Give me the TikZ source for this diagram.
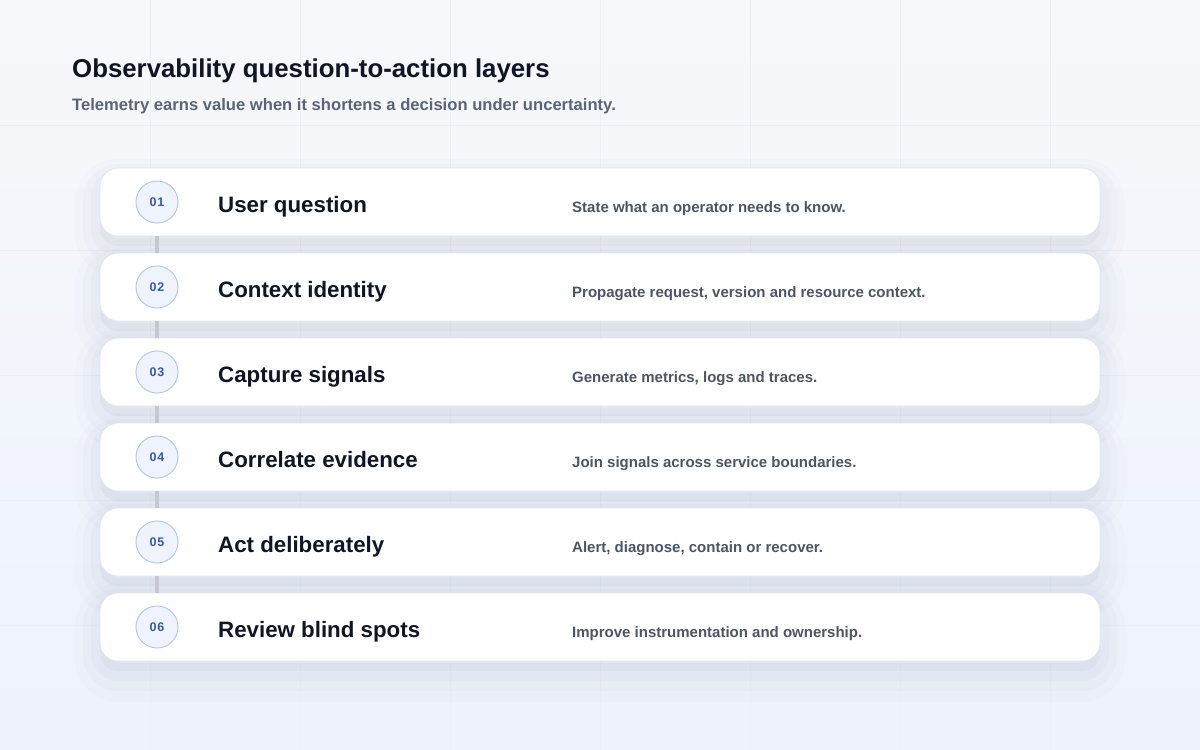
\documentclass[tikz,border=0pt]{standalone}
\usepackage{fontspec}
\setmainfont{Liberation Sans}
\definecolor{bgtop}{HTML}{F7F8FB}
\definecolor{bgbot}{HTML}{EDF2FC}
\definecolor{gridc}{HTML}{ECEFF4}
\definecolor{ink}{HTML}{0F1524}
\definecolor{subink}{HTML}{596476}
\definecolor{descink}{HTML}{4B5565}
\definecolor{numink}{HTML}{3A59A4}
\definecolor{numfill}{HTML}{EEF3FD}
\definecolor{numline}{HTML}{B8C9E7}
\definecolor{cardline}{HTML}{E1E5EE}
\definecolor{shc}{HTML}{7F8CA8}
\definecolor{linkc}{HTML}{C4C8D0}

\begin{document}
\begin{tikzpicture}[x=1pt,y=-1pt,
    card/.style={rectangle, rounded corners=18pt, minimum width=1000pt, minimum height=68pt,
        fill=white, draw=cardline, line width=0.8pt,
        preaction={draw=shc, draw opacity=.022, line width=50pt, transform canvas={yshift=-16pt}},
        preaction={draw=shc, draw opacity=.03, line width=34pt, transform canvas={yshift=-13pt}},
        preaction={draw=shc, draw opacity=.04, line width=18pt, transform canvas={yshift=-11pt}},
        preaction={fill=shc, fill opacity=.07, transform canvas={yshift=-10pt}}},
    num/.style={circle, minimum size=42pt, inner sep=0pt, fill=numfill, draw=numline, line width=1pt,
        text=numink, font=\fontsize{12.5}{13}\selectfont\bfseries\addfontfeature{LetterSpace=8}},
    steptitle/.style={anchor=base west, inner sep=0pt, text=ink, font=\fontsize{22.3}{24}\selectfont\bfseries},
    stepdesc/.style={anchor=base west, inner sep=0pt, text=descink, font=\fontsize{15}{16}\selectfont\bfseries},
    link/.style={draw=linkc, line width=3.5pt}]
    \useasboundingbox (0,0) rectangle (1200,750);
    \shade[top color=bgtop, bottom color=bgbot] (0,0) rectangle (1200,750);
    \foreach \gx in {150,300,...,1050} \draw[gridc, line width=0.8pt] (\gx,0) -- (\gx,750);
    \foreach \gy in {125,250,...,625} \draw[gridc, line width=0.8pt] (0,\gy) -- (1200,\gy);

    \node[anchor=base west, inner sep=0pt, text=ink, font=\fontsize{25.8}{28}\selectfont\bfseries] (title) at (72,77) {Observability question-to-action layers};
    \node[anchor=base west, inner sep=0pt, text=subink, font=\fontsize{16.6}{18}\selectfont\bfseries] (subtitle) at (72,110) {Telemetry earns value when it shortens a decision under uncertainty.};

    \node[card] (c1) at (600,202) {};
    \node[num] (n1) at (157,202) {01};
    \node[steptitle] (t1) at (218,212.5) {User question};
    \node[stepdesc] (d1) at (572,212.5) {State what an operator needs to know.};

    \node[card] (c2) at (600,287) {};
    \node[num] (n2) at (157,287) {02};
    \node[steptitle] (t2) at (218,297.5) {Context identity};
    \node[stepdesc] (d2) at (572,297.5) {Propagate request, version and resource context.};

    \node[card] (c3) at (600,372) {};
    \node[num] (n3) at (157,372) {03};
    \node[steptitle] (t3) at (218,382.5) {Capture signals};
    \node[stepdesc] (d3) at (572,382.5) {Generate metrics, logs and traces.};

    \node[card] (c4) at (600,457) {};
    \node[num] (n4) at (157,457) {04};
    \node[steptitle] (t4) at (218,467.5) {Correlate evidence};
    \node[stepdesc] (d4) at (572,467.5) {Join signals across service boundaries.};

    \node[card] (c5) at (600,542) {};
    \node[num] (n5) at (157,542) {05};
    \node[steptitle] (t5) at (218,552.5) {Act deliberately};
    \node[stepdesc] (d5) at (572,552.5) {Alert, diagnose, contain or recover.};

    \node[card] (c6) at (600,627) {};
    \node[num] (n6) at (157,627) {06};
    \node[steptitle] (t6) at (218,637.5) {Review blind spots};
    \node[stepdesc] (d6) at (572,637.5) {Improve instrumentation and ownership.};

    \draw[link] (n1 |- c1.south) -- (n2 |- c2.north);
    \draw[link] (n2 |- c2.south) -- (n3 |- c3.north);
    \draw[link] (n3 |- c3.south) -- (n4 |- c4.north);
    \draw[link] (n4 |- c4.south) -- (n5 |- c5.north);
    \draw[link] (n5 |- c5.south) -- (n6 |- c6.north);
\end{tikzpicture}
\end{document}
